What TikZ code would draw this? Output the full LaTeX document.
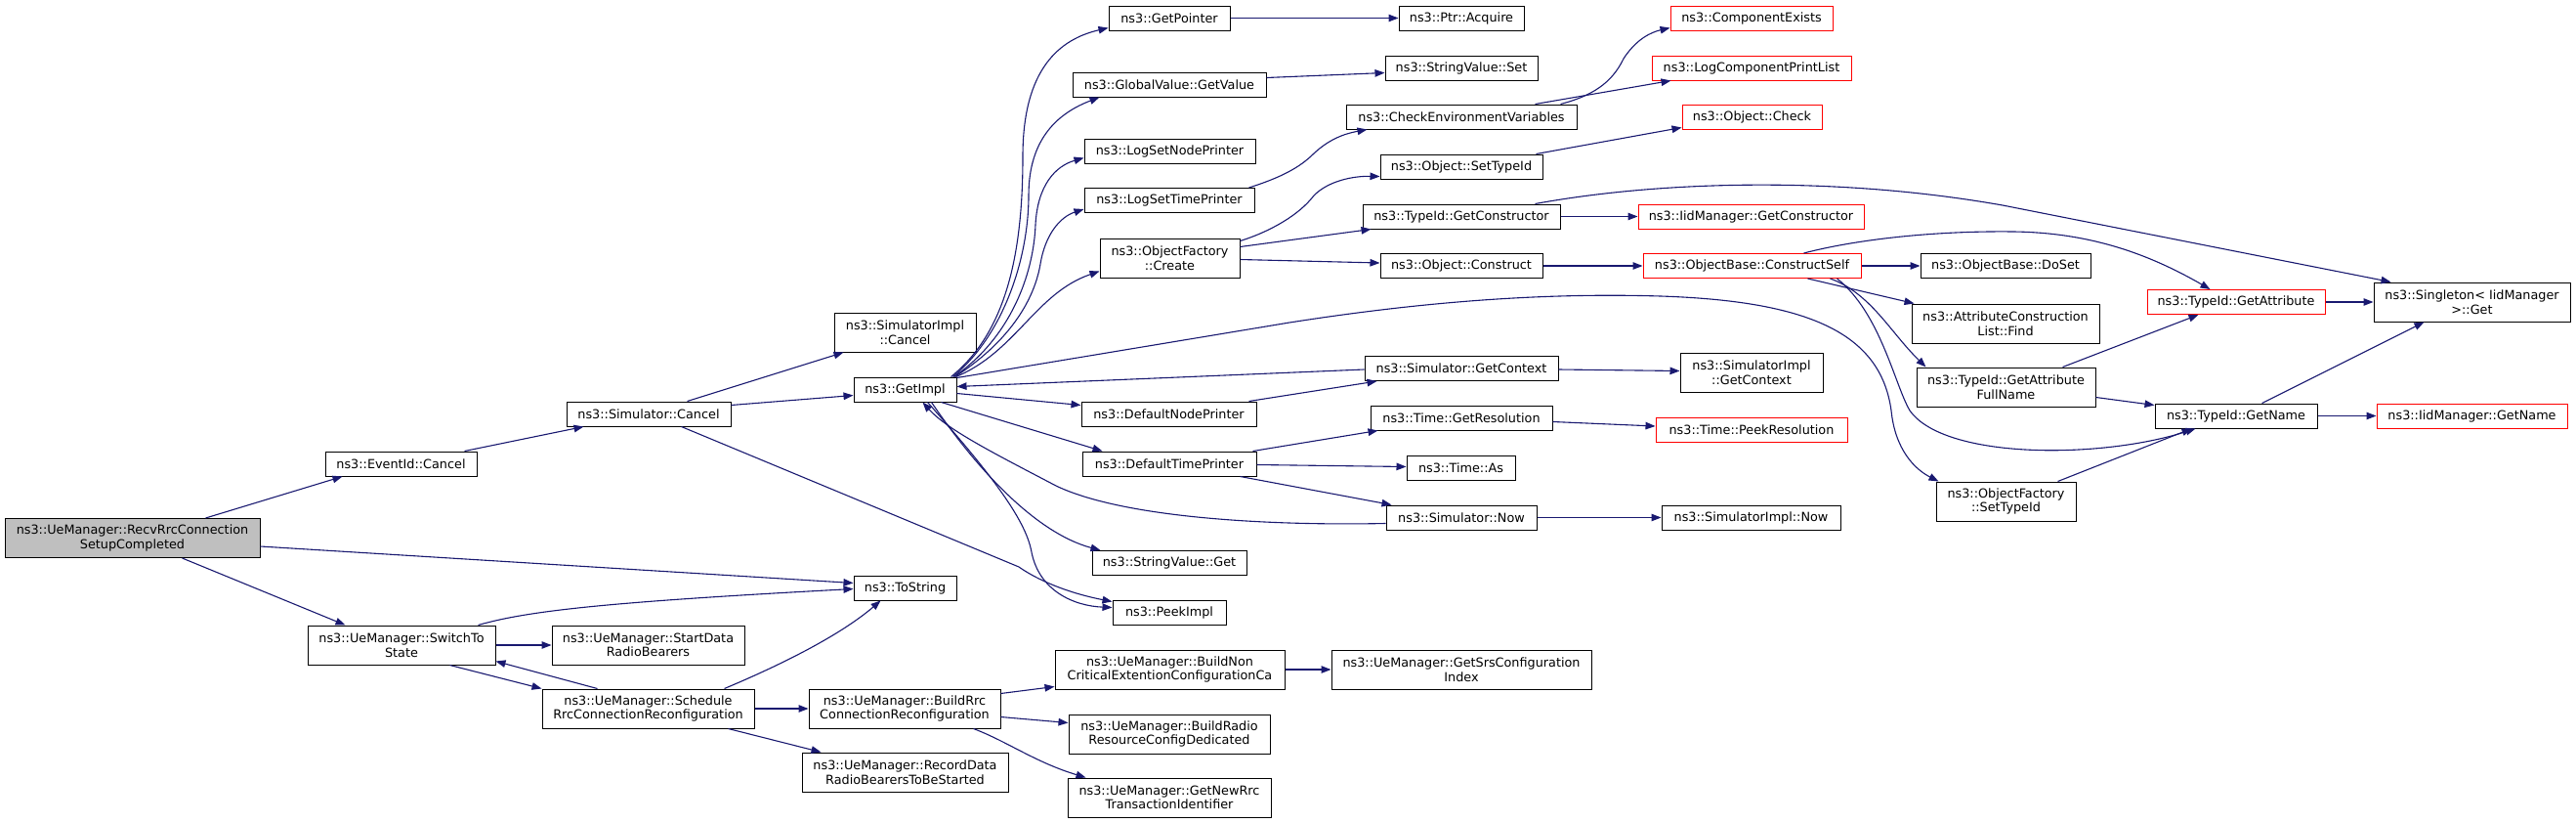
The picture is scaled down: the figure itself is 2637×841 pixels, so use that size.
\documentclass[tikz,border=0pt]{standalone}
\usepackage{fontspec}
\setmainfont{DejaVu Sans}
\usetikzlibrary{arrows.meta}
\definecolor{edgeblue}{HTML}{191970}
\definecolor{rootfill}{HTML}{BFBFBF}
\begin{document}
\begin{tikzpicture}[x=1pt,y=1pt,
  box/.style={draw=black, line width=1pt, fill=white, inner sep=0pt, align=center,
    font=\fontsize{12.8pt}{14.5pt}\selectfont, text=black},
  redbox/.style={box, draw=red},
  rootbox/.style={box, fill=rootfill},
  one/.style={minimum height=25pt},
  two/.style={minimum height=40pt},
  edge/.style={draw=edgeblue, line width=1.1pt, -{Triangle[length=10pt,width=7.5pt]}}]
\useasboundingbox (0,0) rectangle (2637,-841);
% column 0-1
\node[rootbox, two, minimum width=261pt] (recv) at (135.5,-550.5) {ns3::UeManager::RecvRrcConnection\\SetupCompleted};
\node[box, one, minimum width=155pt] (evc) at (410.5,-474.5) {ns3::EventId::Cancel};
\node[box, two, minimum width=192pt] (sw) at (411,-660) {ns3::UeManager::SwitchTo\\State};
% column 2
\node[box, one, minimum width=168pt] (simc) at (664,-423.5) {ns3::Simulator::Cancel};
\node[box, two, minimum width=197pt] (start) at (663.5,-660) {ns3::UeManager::StartData\\RadioBearers};
\node[box, two, minimum width=217pt] (sched) at (663.5,-725) {ns3::UeManager::Schedule\\RrcConnectionReconfiguration};
% column 3
\node[box, two, minimum width=145pt] (simic) at (926.5,-340) {ns3::SimulatorImpl\\::Cancel};
\node[box, one, minimum width=105pt] (getimpl) at (926.5,-398.5) {ns3::GetImpl};
\node[box, one, minimum width=105pt] (tostr) at (926.5,-601.5) {ns3::ToString};
\node[box, two, minimum width=196pt] (buildrrc) at (926,-725) {ns3::UeManager::BuildRrc\\ConnectionReconfiguration};
\node[box, two, minimum width=211pt] (record) at (926.5,-790) {ns3::UeManager::RecordData\\RadioBearersToBeStarted};
% column 4
\node[box, one, minimum width=124pt] (gptr) at (1197,-18.5) {ns3::GetPointer};
\node[box, one, minimum width=198pt] (gval) at (1197,-86.5) {ns3::GlobalValue::GetValue};
\node[box, one, minimum width=175pt] (lsnp) at (1197.5,-154.5) {ns3::LogSetNodePrinter};
\node[box, one, minimum width=174pt] (lstp) at (1197,-205) {ns3::LogSetTimePrinter};
\node[box, two, minimum width=143pt] (ofc) at (1197.5,-264) {ns3::ObjectFactory\\::Create};
\node[box, one, minimum width=179pt] (dnp) at (1196.5,-423.5) {ns3::DefaultNodePrinter};
\node[box, one, minimum width=178pt] (dtp) at (1197,-474.5) {ns3::DefaultTimePrinter};
\node[box, one, minimum width=158pt] (svg) at (1197,-576) {ns3::StringValue::Get};
\node[box, one, minimum width=116pt] (peek) at (1197,-626.5) {ns3::PeekImpl};
\node[box, two, minimum width=235pt] (bnc) at (1197.5,-685) {ns3::UeManager::BuildNon\\CriticalExtentionConfigurationCa};
\node[box, two, minimum width=206pt] (brad) at (1197,-751) {ns3::UeManager::BuildRadio\\ResourceConfigDedicated};
\node[box, two, minimum width=208pt] (gnr) at (1197,-816) {ns3::UeManager::GetNewRrc\\TransactionIdentifier};
% column 5
\node[box, one, minimum width=128pt] (acq) at (1496,-18.5) {ns3::Ptr::Acquire};
\node[box, one, minimum width=156pt] (svs) at (1496,-69.5) {ns3::StringValue::Set};
\node[box, one, minimum width=236pt] (cev) at (1496,-119.5) {ns3::CheckEnvironmentVariables};
\node[box, one, minimum width=166pt] (ostid) at (1496,-170.5) {ns3::Object::SetTypeId};
\node[box, one, minimum width=202pt] (tgc) at (1496,-221.5) {ns3::TypeId::GetConstructor};
\node[box, one, minimum width=166pt] (ocon) at (1496,-272) {ns3::Object::Construct};
\node[box, one, minimum width=198pt] (sgc) at (1496,-377) {ns3::Simulator::GetContext};
\node[box, one, minimum width=186pt] (tgr) at (1496,-427.5) {ns3::Time::GetResolution};
\node[box, one, minimum width=111pt] (tas) at (1495.5,-478.5) {ns3::Time::As};
\node[box, one, minimum width=154pt] (snow) at (1496,-529.5) {ns3::Simulator::Now};
\node[box, two, minimum width=266pt] (gsrs) at (1496,-685) {ns3::UeManager::GetSrsConfiguration\\Index};
% column 6
\node[redbox, one, minimum width=166pt] (cex) at (1793,-18.5) {ns3::ComponentExists};
\node[redbox, one, minimum width=204pt] (lcpl) at (1793,-69.5) {ns3::LogComponentPrintList};
\node[redbox, one, minimum width=143pt] (ochk) at (1793.5,-119.5) {ns3::Object::Check};
\node[redbox, one, minimum width=231pt] (igc) at (1792.5,-221.5) {ns3::IidManager::GetConstructor};
\node[redbox, one, minimum width=223pt] (ocs) at (1793.5,-272) {ns3::ObjectBase::ConstructSelf};
\node[box, two, minimum width=146pt] (sigc) at (1793,-381) {ns3::SimulatorImpl\\::GetContext};
\node[redbox, one, minimum width=196pt] (tpr) at (1793,-440) {ns3::Time::PeekResolution};
\node[box, one, minimum width=183pt] (sinow) at (1792.5,-529.5) {ns3::SimulatorImpl::Now};
% column 7
\node[box, one, minimum width=174pt] (doset) at (2053,-272) {ns3::ObjectBase::DoSet};
\node[box, two, minimum width=192pt] (acl) at (2053,-331) {ns3::AttributeConstruction\\List::Find};
\node[box, two, minimum width=183pt] (gafn) at (2053.5,-396) {ns3::TypeId::GetAttribute\\FullName};
\node[box, two, minimum width=143pt] (ofst) at (2053.5,-513) {ns3::ObjectFactory\\::SetTypeId};
% column 8-9
\node[redbox, one, minimum width=182pt] (gattr) at (2289,-309) {ns3::TypeId::GetAttribute};
\node[box, one, minimum width=166pt] (gname) at (2289,-425.5) {ns3::TypeId::GetName};
\node[box, two, minimum width=201pt] (sing) at (2530.5,-309) {ns3::Singleton< IidManager\\ >::Get};
\node[redbox, one, minimum width=195pt] (ign) at (2530.5,-425.5) {ns3::IidManager::GetName};

% edges
\draw[edge] ([xshift=206]recv.north west) -- ([xshift=18]evc.south west);
\draw[edge] ([yshift=-29]recv.north east) -- ([yshift=-8]tostr.north west);
\draw[edge] ([xshift=182]recv.south west) -- ([xshift=39]sw.north west);
\draw[edge] ([xshift=143]evc.north west) -- ([xshift=18]simc.south west);
\draw[edge] ([xshift=124]simc.north west) -- ([xshift=10]simic.south west);
\draw[edge] ([yshift=-4]simc.north east) -- ([yshift=-19]getimpl.north west);
\draw[edge] ([xshift=118]simc.south west) -- (1043,-580) .. controls (1060,-592) and (1090,-606) .. ([yshift=-2]peek.north west);
\draw[edge] ([xshift=175]sw.north west) .. controls (540,-625) and (620,-616) .. ([yshift=-14]tostr.north west);
\draw[edge] (sw.east) -- (start.west);
\draw[edge] ([xshift=146]sw.south west) -- (sched.north west);
\draw[edge] ([xshift=57]sched.north west) -- ([yshift=4]sw.south east);
\draw[edge] ([xshift=187]sched.north west) .. controls (800,-680) and (860,-650) .. ([xshift=28]tostr.south west);
\draw[edge] (sched.east) -- (buildrrc.west);
\draw[edge] ([xshift=191]sched.south west) -- ([xshift=20]record.north west);
\draw[edge] ([yshift=-5]buildrrc.north east) -- ([yshift=-38]bnc.north west);
\draw[edge] ([yshift=-29]buildrrc.north east) -- ([yshift=-9]brad.north west);
\draw[edge] ([xshift=169]buildrrc.south west) .. controls (1030,-758) and (1060,-780) .. ([xshift=19]gnr.north west);
\draw[edge] (bnc.east) -- (gsrs.west);
% GetImpl out-edges
\draw[edge] ([xshift=-6]getimpl.north east) .. controls (1030,-340) and (1047,-260) .. (1047,-160) .. controls (1047,-70) and (1085,-40) .. ([yshift=3]gptr.south west);
\draw[edge] ([xshift=-4]getimpl.north east) .. controls (1030,-340) and (1053,-260) .. (1053,-200) .. controls (1053,-140) and (1085,-115) .. ([xshift=28]gval.south west);
\draw[edge] ([xshift=-3]getimpl.north east) .. controls (1035,-345) and (1058,-280) .. (1060,-230) .. controls (1062,-190) and (1080,-170) .. ([yshift=-20]lsnp.north west);
\draw[edge] ([xshift=-2]getimpl.north east) .. controls (1040,-345) and (1060,-300) .. (1065,-270) .. controls (1070,-240) and (1085,-222) .. ([yshift=-22]lstp.north west);
\draw[edge] ([xshift=-1]getimpl.north east) .. controls (1040,-360) and (1060,-300) .. ([yshift=-34]ofc.north west);
\draw[edge] ([yshift=-17]getimpl.north east) -- ([yshift=-4]dnp.north west);
\draw[edge] ([xshift=-16]getimpl.south east) -- ([xshift=21]dtp.north west);
\draw[edge] ([xshift=-26]getimpl.south east) .. controls (1000,-480) and (1060,-545) .. ([xshift=9]svg.north west);
\draw[edge] ([xshift=-30]getimpl.south east) .. controls (1010,-480) and (1050,-530) .. (1056,-565) .. controls (1064,-605) and (1100,-620) .. ([yshift=-8]peek.north west);
\draw[edge] ([yshift=-1]getimpl.north east) -- (1320,-330) .. controls (1480,-305) and (1600,-300) .. (1700,-303) .. controls (1850,-308) and (1925,-340) .. (1936,-420) .. controls (1940,-460) and (1960,-480) .. ([xshift=3]ofst.north west);
% back edges into GetImpl
\draw[edge] ([yshift=-14]sgc.north west) -- ([yshift=-10]getimpl.north east);
\draw[edge] ([yshift=-19]snow.north west) .. controls (1300,-538) and (1150,-530) .. (1081,-497) .. controls (1020,-465) and (970,-440) .. ([xshift=-35]getimpl.south east);
% column 4 -> 5
\draw[edge] (gptr.east) -- (acq.west);
\draw[edge] ([yshift=-6]gval.north east) -- ([yshift=-18]svs.north west);
\draw[edge] ([xshift=169]lstp.north west) .. controls (1310,-182) and (1330,-172) .. (1345,-157) .. controls (1360,-143) and (1375,-137) .. ([xshift=22]cev.south west);
\draw[edge] ([yshift=-3]ofc.north east) .. controls (1300,-237) and (1330,-220) .. (1345,-200) .. controls (1360,-185) and (1385,-180) .. ([yshift=3]ostid.south west);
\draw[edge] ([yshift=-9]ofc.north east) -- ([xshift=9]tgc.south west);
\draw[edge] ([yshift=-22]ofc.north east) -- ([yshift=-10]ocon.north west);
\draw[edge] ([xshift=172]dnp.north west) -- ([xshift=13]sgc.south west);
\draw[edge] ([xshift=175]dtp.north west) -- ([xshift=8]tgr.south west);
\draw[edge] ([yshift=-14]dtp.north east) -- ([yshift=-12]tas.north west);
\draw[edge] ([xshift=162]dtp.south west) -- ([xshift=6]snow.north west);
% column 5 -> 6
\draw[edge] ([xshift=220]cev.north west) .. controls (1630,-98) and (1650,-85) .. (1662,-60) .. controls (1675,-40) and (1690,-33) .. ([yshift=3]cex.south west);
\draw[edge] ([xshift=194]cev.north west) -- ([xshift=20]lcpl.south west);
\draw[edge] ([xshift=160]ostid.north west) -- ([yshift=2]ochk.south west);
\draw[edge] (tgc.east) -- (igc.west);
\draw[edge] (ocon.east) -- (ocs.west);
\draw[edge] ([yshift=-14]sgc.north east) -- ([yshift=-19]sigc.north west);
\draw[edge] ([yshift=-17]tgr.north east) -- ([yshift=-9]tpr.north west);
\draw[edge] (snow.east) -- (sinow.west);
% ConstructSelf out-edges
\draw[edge] (ocs.east) -- (doset.west);
\draw[edge] ([xshift=-55]ocs.south east) -- ([xshift=3]acl.north west);
\draw[edge] ([xshift=-32]ocs.south east) .. controls (1915,-300) and (1935,-340) .. ([xshift=10]gafn.north west);
\draw[edge] ([xshift=-25]ocs.south east) .. controls (1925,-320) and (1940,-395) .. (1955,-420) .. controls (1990,-470) and (2150,-470) .. ([xshift=42]gname.south west);
\draw[edge] ([xshift=-59]ocs.north east) .. controls (1900,-245) and (1980,-236) .. (2061,-237) .. controls (2140,-238) and (2200,-260) .. ([xshift=65]gattr.north west);
\draw[edge] ([xshift=177]tgc.north west) .. controls (1700,-185) and (1880,-180) .. (2050,-210) -- ([xshift=18]sing.north west);
% right part
\draw[edge] ([xshift=150]gafn.north west) -- ([xshift=53]gattr.south west);
\draw[edge] ([yshift=-31]gafn.north east) -- ([yshift=-2]gname.north west);
\draw[edge] ([xshift=125]ofst.north west) -- ([xshift=38]gname.south west);
\draw[edge] (gattr.east) -- (sing.west);
\draw[edge] ([xshift=110]gname.north west) -- ([xshift=52]sing.south west);
\draw[edge] (gname.east) -- (ign.west);
\end{tikzpicture}
\end{document}
